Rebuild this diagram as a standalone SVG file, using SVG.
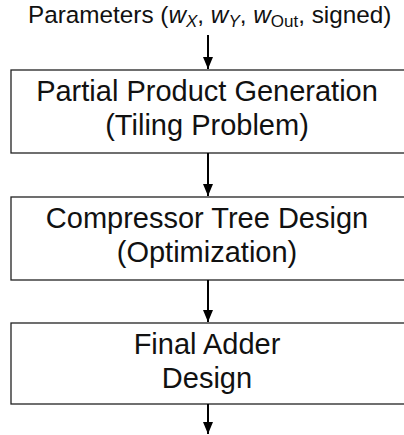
<svg xmlns="http://www.w3.org/2000/svg" width="404" height="435" viewBox="0 0 404 435">
<style>
.box{fill:#fff;stroke:#222;stroke-width:1.3}
.lbl{font-family:"Liberation Sans",Arial,sans-serif;font-size:29px;fill:#111;text-anchor:middle}
.ttl{font-family:"Liberation Sans",Arial,sans-serif;font-size:24.3px;fill:#111}
.conn{stroke:#000;stroke-width:2;fill:none;marker-end:url(#ah)}
</style>
<defs>
<marker id="ah" markerWidth="12" markerHeight="10" refX="12" refY="5" orient="auto" markerUnits="userSpaceOnUse" viewBox="0 0 12 10">
<path d="M0,0 L12,5 L0,10 Z" fill="#000"/>
</marker>
</defs>
<g id="params">
<text class="ttl" x="28" y="23">Parameters (<tspan font-style="italic">w</tspan><tspan font-style="italic" font-size="17" dy="4">X</tspan><tspan dy="-4">, </tspan><tspan font-style="italic">w</tspan><tspan font-style="italic" font-size="17" dy="4">Y</tspan><tspan dy="-4">, </tspan><tspan font-style="italic">w</tspan><tspan font-size="17" dy="4">Out</tspan><tspan dy="-4">, signed)</tspan></text>
</g>
<g id="n1">
<rect class="box" x="11" y="70" width="400" height="83"/>
<text class="lbl" x="207" y="101">Partial Product Generation</text>
<text class="lbl" x="207" y="135">(Tiling Problem)</text>
</g>
<g id="n2">
<rect class="box" x="11" y="197" width="400" height="83"/>
<text class="lbl" x="207" y="228">Compressor Tree Design</text>
<text class="lbl" x="207" y="262">(Optimization)</text>
</g>
<g id="n3">
<rect class="box" x="11" y="323" width="400" height="81"/>
<text class="lbl" x="207" y="354">Final Adder</text>
<text class="lbl" x="207" y="388">Design</text>
</g>
<g id="connectors">
<line class="conn" x1="208" y1="35" x2="208" y2="69"/>
<line class="conn" x1="208" y1="153" x2="208" y2="196"/>
<line class="conn" x1="208" y1="280" x2="208" y2="322"/>
<line class="conn" x1="208" y1="404" x2="208" y2="434"/>
</g>
</svg>
